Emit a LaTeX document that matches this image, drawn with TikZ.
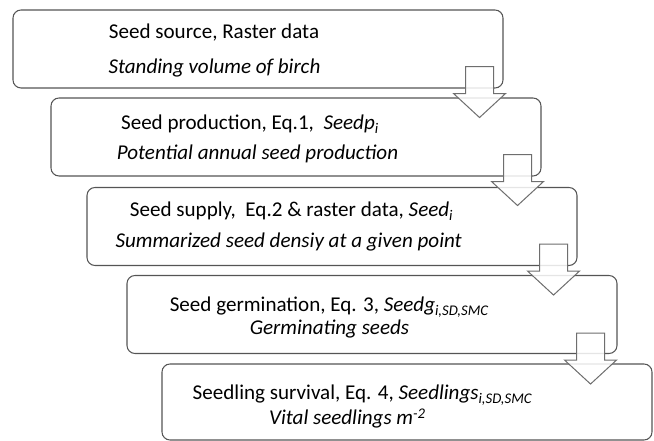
\documentclass[tikz,border=0pt]{standalone}
\usepackage{fontspec}
\setmainfont{Carlito}
\usetikzlibrary{calc}
\definecolor{boxline}{HTML}{555555}
\definecolor{arrline}{HTML}{6E6E6E}
\begin{document}
\begin{tikzpicture}[x=0.75pt,y=-0.75pt,
  stagebox/.style={draw=boxline, line width=0.8pt, fill=white, rounded corners=6pt,
    minimum width=367.5pt, minimum height=58.5pt, inner sep=0pt},
  lbl/.style={anchor=base, inner sep=0pt, font=\fontsize{15.8}{18}\selectfont},
  blockarrow/.pic={\draw[draw=arrline, line width=0.75pt, fill=white, fill opacity=0.85, line join=miter]
    (-14,0) -- (14,0) -- (14,27) -- (26,27) -- (0,51) -- (-26,27) -- (-14,27) -- cycle;}]
\useasboundingbox (0,0) rectangle (654,441);
% boxes
\node[stagebox] (b1) at (258,49) {};
\node[stagebox] (b2) at (296,137) {};
\node[stagebox] (b3) at (332,226.5) {};
\node[stagebox] (b4) at (372,314.5) {};
\node[stagebox, minimum height=57pt] (b5) at (407,402) {};
% texts
\node[lbl] (t1a) at (214,39) {Seed source, Raster data};
\node[lbl] (t1b) at (214.5,74) {\itshape Standing volume of birch};
\node[lbl] (t2a) at (250,130) {Seed production, Eq.1,\ \ \textit{Seedp\textsubscript{i}}};
\node[lbl] (t2b) at (257.5,159.3) {\itshape Potential annual seed production};
\node[lbl] (t3a) at (291.6,216.7) {Seed supply,\ \ Eq.2 \& raster data, \textit{Seed\textsubscript{i}}};
\node[lbl] (t3b) at (288.7,247.3) {\itshape Summarized seed densiy at a given point};
\node[lbl] (t4a) at (329.3,311.7) {Seed germination, Eq. 3, \textit{Seedg\textsubscript{i,SD,SMC}}};
\node[lbl] (t4b) at (329.5,334.5) {\itshape Germinating seeds};
\node[lbl] (t5a) at (362.5,400) {Seedling survival, Eq. 4, \textit{Seedlings\textsubscript{i,SD,SMC}}};
\node[lbl] (t5b) at (347.5,425) {\itshape Vital seedlings m\textsuperscript{-2}};
% block arrows
\pic at ($(b1.south east)+(-24,-22)$) {blockarrow};
\pic at ($(b2.south east)+(-24,-22)$) {blockarrow};
\pic at ($(b3.south east)+(-24,-22)$) {blockarrow};
\pic at ($(b4.south east)+(-27,-21)$) {blockarrow};
\end{tikzpicture}
\end{document}
